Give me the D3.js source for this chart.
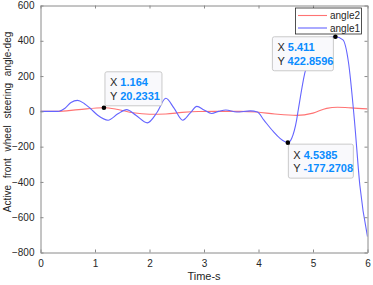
<!DOCTYPE html>
<html><head><meta charset="utf-8">
<script src="https://cdn.jsdelivr.net/npm/d3@7"></script>
<style>body{margin:0;background:#fff;}svg{display:block;font-family:"Liberation Sans",Arial,sans-serif;}</style>
</head><body><svg id="c" width="373" height="285"></svg>
<script>
const xTicks = [0,1,2,3,4,5,6];
const yTicks = [-800,-600,-400,-200,0,200,400,600];
const seriesNames = ["angle2","angle1"];
// angle1 (blue)
const t1 = [0,0.30,0.34,0.45,0.56,0.68,0.80,0.92,1.05,1.24,1.42,1.58,1.75,1.96,2.14,2.30,2.45,2.61,2.74,2.87,3.0,3.14,3.27,3.40,3.60,3.85,3.98,4.10,4.27,4.39,4.5385,4.61,4.70,4.73,4.85,5.0,5.2,5.411,5.55,5.65,5.76,5.86,6.0];
const v1 = [0,0,1,18,50,62,45,15,-22,-50,-14,10,-22,-65,-5,74,18,-50,-12,28,8,-12,0,8,-4,3,-4,-50,-114,-152,-177.27,-152,-48,9,218,350,412,422.86,405,280,-50,-420,-710];
// angle2 (red)
const t2 = [0,0.30,0.70,1.164,1.40,1.70,2.00,2.30,2.60,2.90,3.20,3.66,3.97,4.30,4.70,5.00,5.25,5.45,5.70,6.0];
const v2 = [0,0,10,20.23,12,-8,-16,-15,-6,-1,0,0,-4,-15,-23,-10,17,23,20,14];
const tips = [
  {x:1.164, y:20.2331, xs:"1.164", ys:"20.2331", dx:1, dy:-36, w:57},
  {x:5.411, y:422.8596, xs:"5.411", ys:"422.8596", dx:-63, dy:0, w:61},
  {x:4.5385, y:-177.2708, xs:"4.5385", ys:"-177.2708", dx:0.5, dy:1.5, w:65}
];

const svg = d3.select("#c");
const L=40.5, R=367.5, T=5.5, B=252.5;
const x = d3.scaleLinear().domain([0,6]).range([L,R]);
const y = d3.scaleLinear().domain([-800,600]).range([B,T]);
const axisCol = "#8a8a8a", textCol = "#262626";

const g = svg.append("g");
const line = d3.line().x(d=>x(d[0])).y(d=>y(d[1])).curve(d3.curveMonotoneX);
svg.append("clipPath").attr("id","cp").append("rect").attr("x",L).attr("y",T).attr("width",R-L).attr("height",B-T);
const lines = g.append("g").attr("clip-path","url(#cp)");
lines.append("path").datum(t2.map((t,i)=>[t,v2[i]])).attr("d",line).attr("fill","none").attr("stroke","#ff7373").attr("stroke-width",1.1);
lines.append("path").datum(t1.map((t,i)=>[t,v1[i]])).attr("d",line).attr("fill","none").attr("stroke","#6464ff").attr("stroke-width",1.1);

const ax = (axis, tr) => {
  const a = g.append("g").attr("transform",tr).call(axis);
  a.select(".domain").attr("stroke",axisCol);
  a.selectAll(".tick line").attr("stroke",axisCol);
  a.selectAll("text").attr("fill",textCol).style("font-size","10px").style("font-family","Liberation Sans, Arial, sans-serif");
  return a;
};
ax(d3.axisBottom(x).tickValues(xTicks).tickSizeInner(-3).tickSizeOuter(0).tickPadding(7).tickFormat(d3.format("d")), `translate(0,${B})`);
ax(d3.axisTop(x).tickValues(xTicks).tickSizeInner(-3).tickSizeOuter(0).tickFormat(""), `translate(0,${T})`);
ax(d3.axisLeft(y).tickValues(yTicks).tickSizeInner(-3).tickSizeOuter(0).tickPadding(6).tickFormat(d3.format("d")), `translate(${L},0)`);
ax(d3.axisRight(y).tickValues(yTicks).tickSizeInner(-3).tickSizeOuter(0).tickFormat(""), `translate(${R},0)`);

svg.append("text").attr("x",(L+R)/2).attr("y",280).attr("text-anchor","middle").attr("fill",textCol).style("font-size","11px").text("Time-s");
svg.append("text").attr("transform",`translate(11,${122}) rotate(-90)`).attr("text-anchor","middle").attr("fill",textCol).style("font-size","10px").style("word-spacing","4px").text("Active front wheel steering angle-deg");

const lg = svg.append("g");
lg.append("rect").attr("x",295.5).attr("y",8).attr("width",66).attr("height",26).attr("fill","#fff").attr("stroke","#262626").attr("stroke-width",0.8);
const lcol = ["#ff7373","#6464ff"];
seriesNames.forEach((n,i)=>{
  const yy = 15.5 + i*12.5;
  lg.append("line").attr("x1",298).attr("x2",327).attr("y1",yy).attr("y2",yy).attr("stroke",lcol[i]).attr("stroke-width",1.1);
  lg.append("text").attr("x",330).attr("y",yy+3.5).attr("fill",textCol).style("font-size","10px").text(n);
});

tips.forEach(d=>{
  const px = x(d.x), py = y(d.y);
  const bx = px + d.dx, by = py + d.dy;
  const tg = svg.append("g");
  tg.append("rect").attr("x",bx).attr("y",by).attr("width",d.w).attr("height",34).attr("rx",2)
    .attr("fill","#f9f9fc").attr("stroke","#c4c4c4").attr("stroke-width",0.9);
  const tx = tg.append("text").attr("x",bx+5).attr("y",by+14.5).style("font-size","11px");
  tx.append("tspan").attr("fill","#262626").text("X ");
  tx.append("tspan").attr("fill","#0a8cff").attr("font-weight","bold").text(d.xs);
  const ty = tg.append("text").attr("x",bx+5).attr("y",by+28).style("font-size","11px");
  ty.append("tspan").attr("fill","#262626").text("Y ");
  ty.append("tspan").attr("fill","#0a8cff").attr("font-weight","bold").text(d.ys);
  svg.append("circle").attr("cx",px).attr("cy",py).attr("r",2.3).attr("fill","#000");
});
</script></body></html>
